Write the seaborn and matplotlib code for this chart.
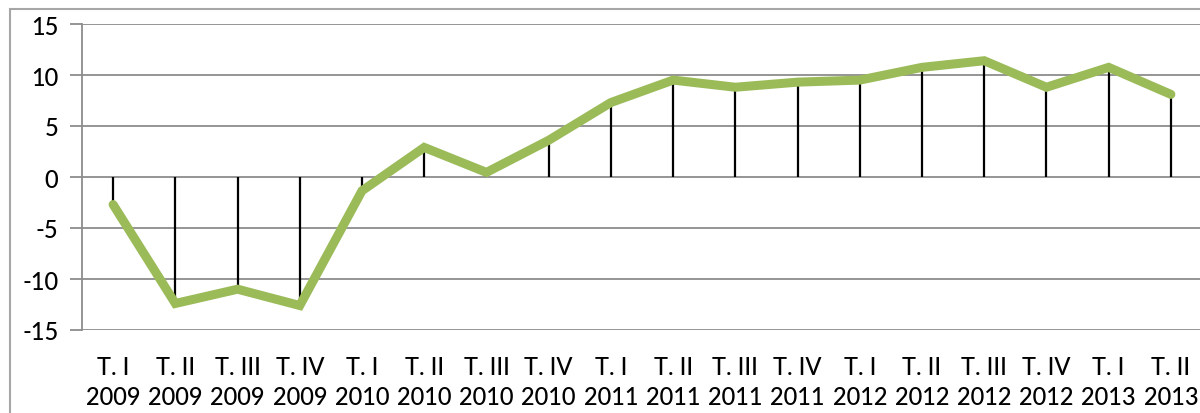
import matplotlib
matplotlib.use("Agg")
import matplotlib.pyplot as plt
import seaborn as sns
import pandas as pd
import numpy as np
from matplotlib.patches import Rectangle

quarters = ["T. I", "T. II", "T. III", "T. IV", "T. I", "T. II", "T. III", "T. IV",
            "T. I", "T. II", "T. III", "T. IV", "T. I", "T. II", "T. III", "T. IV",
            "T. I", "T. II"]
years = ["2009", "2009", "2009", "2009", "2010", "2010", "2010", "2010",
         "2011", "2011", "2011", "2011", "2012", "2012", "2012", "2012",
         "2013", "2013"]
values = [-2.7, -12.4, -11.0, -12.6, -1.35, 2.9, 0.45, 3.6,
          7.3, 9.5, 8.8, 9.3, 9.5, 10.75, 11.4, 8.8, 10.75, 8.1]
y_ticks = [-15, -10, -5, 0, 5, 10, 15]

sns.set_style("white")
plt.rcParams['font.family'] = ['Lato', 'DejaVu Sans']

df = pd.DataFrame({"idx": np.arange(len(values)), "value": values,
                   "label": [f"{q}\n{y}" for q, y in zip(quarters, years)]})

fig = plt.figure(figsize=(12, 4.14), dpi=100)
ax = fig.add_axes([82/1200, 1-331/414, 1120/1200, (331-25)/414])

# outer border
fig.patches.append(Rectangle((10/1200, -0.1), 1.2, 1 - 10/414 + 0.1,
                             transform=fig.transFigure, fill=False,
                             edgecolor="#A6A6A6", linewidth=1.5, zorder=0))

for t in y_ticks:
    ax.axhline(t, color="#8C8C8C", linewidth=1.3, zorder=1)

ax.vlines(df["idx"], 0, df["value"], color="black", linewidth=1.6, zorder=2)
sns.lineplot(data=df, x="idx", y="value", ax=ax, color="#9BBB59", linewidth=6.5,
             solid_capstyle="round", solid_joinstyle="miter", zorder=3)

ax.set_xlim(-0.5, len(values) - 0.5)
ax.set_ylim(-15, 15)
ax.set_yticks(y_ticks)
ax.set_yticklabels([str(t) for t in y_ticks], fontsize=17, color="black",
                   fontweight="medium")
ax.set_xticks(df["idx"])
ax.set_xticklabels(df["label"], fontsize=17, linespacing=1.35, color="black",
                   fontweight="medium")
ax.set_xlabel("")
ax.set_ylabel("")
for s in ["top", "right", "bottom"]:
    ax.spines[s].set_visible(False)
ax.spines["left"].set_color("#8C8C8C")
ax.spines["left"].set_linewidth(1.3)
ax.tick_params(axis="y", length=9, width=1.3, color="#8C8C8C", pad=8, left=True)
ax.tick_params(axis="x", length=0, pad=18)

fig.savefig("out.png", dpi=100)
